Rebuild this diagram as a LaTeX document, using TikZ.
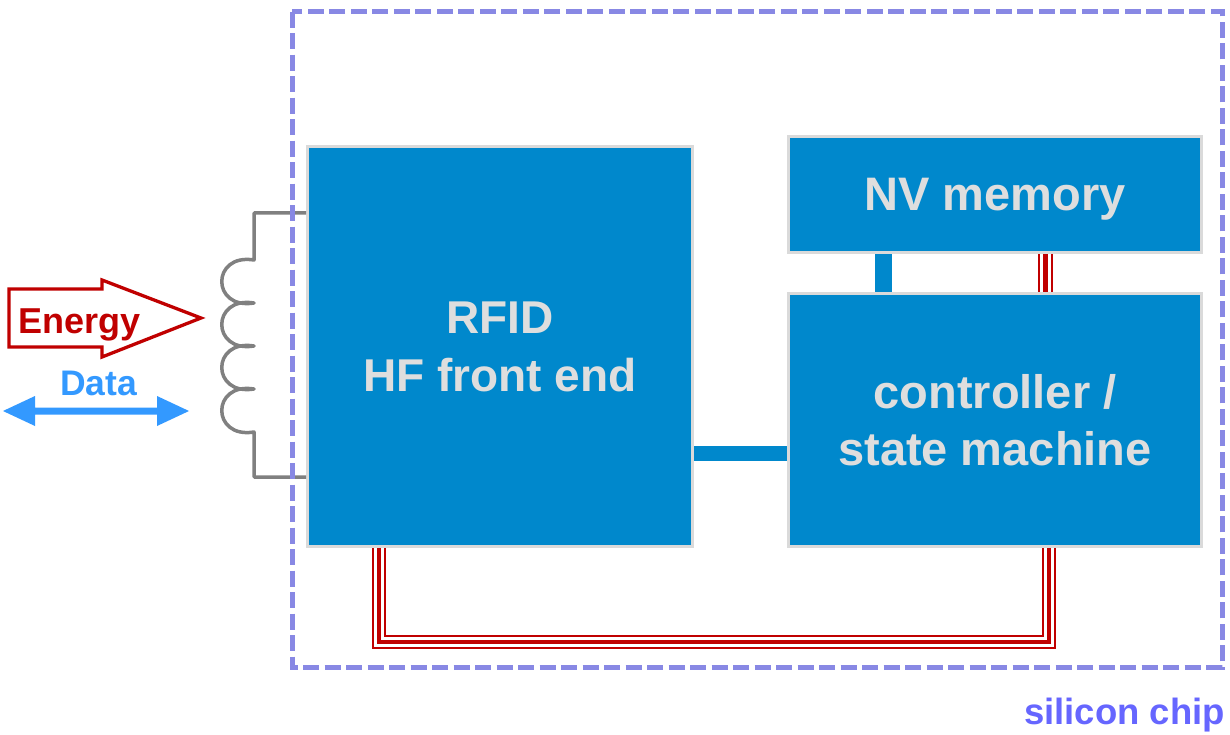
\documentclass[tikz,border=0pt]{standalone}
\usepackage{fontspec}
\setmainfont{Liberation Sans}
\definecolor{boxblue}{RGB}{0,136,204}
\definecolor{boxedge}{RGB}{218,218,218}
\definecolor{boxtext}{RGB}{222,222,222}
\definecolor{busred}{RGB}{192,0,0}
\definecolor{chipline}{RGB}{136,136,228}
\definecolor{chiptext}{RGB}{102,102,255}
\definecolor{datablue}{RGB}{51,153,255}
\definecolor{coilgray}{RGB}{128,128,128}
\tikzset{
  block/.style={draw=boxedge, line width=3pt, fill=boxblue, inner sep=0pt,
    text=boxtext, align=center, text depth=0pt, font=\bfseries\fontsize{47}{57}\selectfont},
  bluebar/.style={draw=boxblue, line width=#1},
  redbus/.style={draw=busred, line width=14.5pt, line join=miter,
    postaction={draw=white, line width=10.5pt},
    postaction={draw=busred, line width=4.6pt}},
  chipframe/.style={draw=chipline, line width=5pt, dash pattern=on 16pt off 5.5pt},
}
\begin{document}
\begin{tikzpicture}[x=1pt, y=-1pt]
\useasboundingbox (0,0) rectangle (1230,735);
\fill[white] (0,0) rectangle (1230,735);

% blocks
\node[block, minimum width=385pt, minimum height=400pt, font=\bfseries\fontsize{46}{58}\selectfont] (rfid) at (500,346.5) {RFID\\HF front end};
\node[block, minimum width=413pt, minimum height=116pt] (nv) at (995,194.5) {NV memory};
\node[block, minimum width=413pt, minimum height=253pt] (ctrl) at (995,420) {controller /\\state machine};

% blue connectors
\draw[bluebar=15pt] (rfid.east |- 0,453) -- (ctrl.west |- 0,453);
\draw[bluebar=17pt] (nv.south -| 883.5,0) -- (ctrl.north -| 883.5,0);

% red triple buses
\draw[redbus] (nv.south -| 1045.5,0) -- (ctrl.north -| 1045.5,0);
\coordinate (busA) at (379,642);
\coordinate (busB) at (1049,642);
\draw[redbus] (rfid.south -| busA) -- (busA) -- (busB) -- (ctrl.south -| busB);

% coil
\draw[coilgray, line width=3.5pt, line join=round]
  (rfid.west |- 0,213) -- (254,213) -- (254,260)
  .. controls (211,253) and (211,310) .. (254,303)
  .. controls (211,296) and (211,353) .. (254,346)
  .. controls (211,339) and (211,396) .. (254,389)
  .. controls (211,382) and (211,439) .. (254,432)
  -- (254,477) -- (rfid.west |- 0,477);

% chip frame
\draw[chipframe] (292,11.7) rectangle (1222,667);
\node[text=chiptext, font=\bfseries\fontsize{36.5}{40}\selectfont, anchor=base east, inner sep=0pt] (chip) at (1225,724) {silicon chip};

% energy arrow
\draw[busred, line width=3.3pt, line join=miter]
  (9,289) -- (102,289) -- (102,280) -- (201,318) -- (102,357) -- (102,347) -- (9,347) -- cycle;
\node[text=busred, font=\bfseries\fontsize{36}{40}\selectfont, anchor=base, inner sep=0pt] (energy) at (79.5,333) {Energy};

% data arrow
\node[text=datablue, font=\bfseries\fontsize{35.5}{40}\selectfont, anchor=base, inner sep=0pt] (data) at (98.5,395) {Data};
\fill[datablue] (3,411) -- (35,396) -- (35,407.5) -- (157,407.5) -- (157,396) -- (189,411)
  -- (157,426) -- (157,414.5) -- (35,414.5) -- (35,426) -- cycle;
\end{tikzpicture}
\end{document}
